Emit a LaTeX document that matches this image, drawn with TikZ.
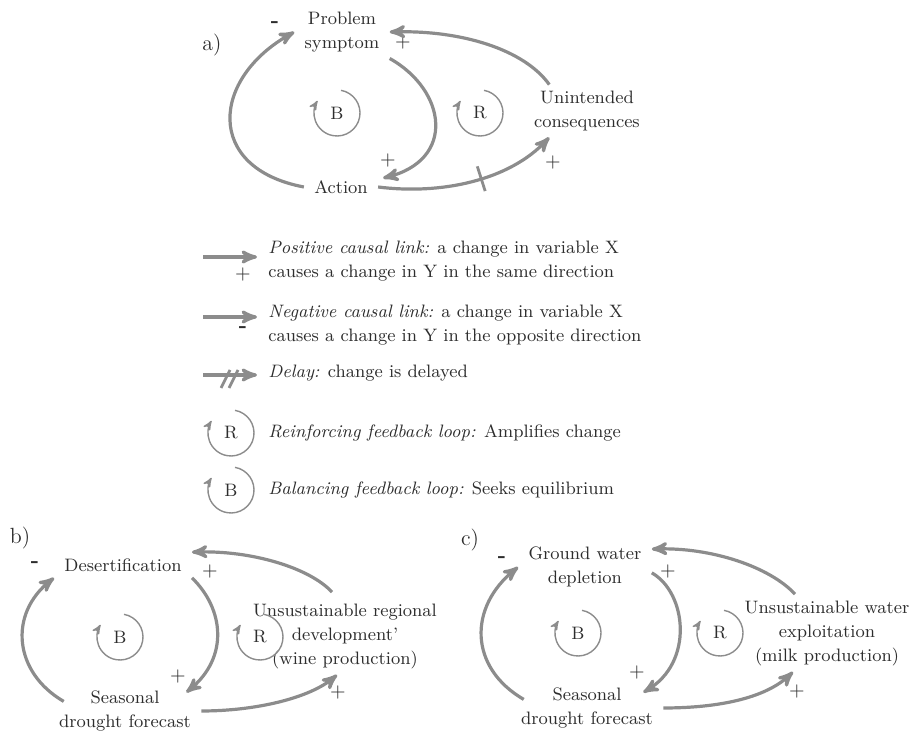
\documentclass[tikz,border=0pt]{standalone}
\usepackage{tikz}
\usetikzlibrary{arrows}

\definecolor{linkgray}{RGB}{140,140,140}
\definecolor{inkgray}{RGB}{45,45,45}

\begin{document}
\begin{tikzpicture}[x=0.5pt,y=0.5pt,>=stealth',text=inkgray,
  font=\fontsize{9}{12}\selectfont,
  concept/.style={align=center,inner xsep=5pt,inner ysep=3pt},
  link/.style={->,line width=1.6pt,draw=linkgray},
  loopsym/.style={circle,minimum size=23pt,inner sep=0pt,outer sep=0pt},
  looparrow/.style={->,line width=0.7pt,draw=linkgray},
  sign/.style={inner sep=0pt,font=\fontsize{10}{12}\selectfont},
  minus/.style={inner sep=0pt,font=\fontsize{11}{12}\selectfont\bfseries},
  panel/.style={font=\fontsize{11}{13}\selectfont},
  delaytick/.style={draw=linkgray,line width=1.4pt,minimum width=0pt,minimum height=13pt,inner sep=0pt}]

  \useasboundingbox (0,0) rectangle (910,733);

  % a) problem symptom
  \node[panel] (pa) at (212,688) {a)};
  \node[concept] (ps) at (342,701) {Problem\\symptom};
  \node[concept] (act) at (341,546) {Action};
  \node[concept] (uc) at (587,622) {Unintended\\consequences};
  \node[loopsym] (aB) at (337,620) {B};
  \node[loopsym] (aR) at (480,620) {R};

  \node[minus] (sa1) at (275,708) {-};
  \node[sign] (sa2) at (403,690) {+};
  \node[sign] (sa3) at (388,572) {+};
  \node[sign] (sa4) at (553,570) {+};

  \draw[link] (act.west) .. controls +(-100,19) and +(-83,-46) .. (ps.west);
  \draw[link] (ps.south east) .. controls +(57,-32) and +(73,18) .. ([shift={(5,-4)}]act.north east);
  \draw[link] (uc.145) .. controls +(-25,35) and +(72,2) .. (ps.east);
  \draw[link] (act.east) .. controls +(63,-8) and +(-40,-43) .. node[pos=.55,sloped,delaytick] {} (uc.-145);

  % legend
  \coordinate (pos1) at (203,476);
  \coordinate (pos2) at (257,476);
  \coordinate (neg1) at (203,416);
  \coordinate (neg2) at (257,416);
  \coordinate (del1) at (203,358);
  \coordinate (del2) at (257,358);
  \draw[link] (pos1) -- (pos2);
  \draw[link] (neg1) -- (neg2);
  \draw[link] (del1) -- (del2);
  \draw[linkgray,line width=1.4pt] (221,345) -- (230,363) (229,345) -- (238,363);
  \node[sign] (spos) at (243,458) {+};
  \node[minus] (sneg) at (243,403) {-};
  \node[loopsym] (gR) at (231,300) {R};
  \node[loopsym] (gB) at (231,243) {B};

  \node[align=left,anchor=west,inner sep=0pt] (tpos) at (268,472) {\textit{Positive causal link:} a change in variable X\\causes a change in Y in the same direction};
  \node[align=left,anchor=west,inner sep=0pt] (tneg) at (268,408) {\textit{Negative causal link:} a change in variable X\\causes a change in Y in the opposite direction};
  \node[anchor=west,inner sep=0pt] (tdel) at (268,360) {\textit{Delay:} change is delayed};
  \node[anchor=west,inner sep=0pt] (trei) at (268,300) {\textit{Reinforcing feedback loop:} Amplifies change};
  \node[anchor=west,inner sep=0pt] (tbal) at (268,243) {\textit{Balancing feedback loop:} Seeks equilibrium};

  % b) desertification
  \node[panel] (pb) at (20,195) {b)};
  \node[concept] (des) at (123,168) {Desertification};
  \node[concept] (sdf) at (125,22) {Seasonal\\drought forecast};
  \node[concept] (usr) at (345,97) {Unsustainable regional\\development'\\(wine production)};
  \node[loopsym] (bB) at (120,96) {B};
  \node[loopsym] (bR) at (260,96) {R};

  \node[minus] (sb1) at (35,168) {-};
  \node[sign] (sb2) at (210,161) {+};
  \node[sign] (sb3) at (178,56) {+};
  \node[sign] (sb4) at (338,40) {+};

  \draw[link] ([shift={(15,-17)}]sdf.north west) .. controls +(-50,29) and +(-46,-36) .. (des.south west);
  \draw[link] (des.south east) .. controls +(32,-31) and +(43,35) .. ([shift={(-15,-8)}]sdf.north east);
  \draw[link] ([shift={(-13,5)}]usr.north) .. controls +(-22,24) and +(60,2) .. (des.north east);
  \draw[link] (sdf.east) .. controls +(55,0) and +(-27,-23) .. ([xshift=-4pt]usr.south);

  % c) ground water
  \node[panel] (pc) at (470,193) {c)};
  \node[concept] (gwd) at (585,166) {Ground water\\depletion};
  \node[concept] (sdf2) at (587,25) {Seasonal\\drought forecast};
  \node[concept] (uwe) at (827,100) {Unsustainable water\\exploitation\\(milk production)};
  \node[loopsym] (cB) at (578,100) {B};
  \node[loopsym] (cR) at (720,100) {R};

  \node[minus] (sc1) at (502,173) {-};
  \node[sign] (sc2) at (668,161) {+};
  \node[sign] (sc3) at (637,60) {+};
  \node[sign] (sc4) at (797,41) {+};

  \draw[link] ([shift={(13,-18)}]sdf2.north west) .. controls +(-55,32) and +(-50,-40) .. (gwd.west);
  \draw[link] (gwd.-5) .. controls +(35,-20) and +(51,30) .. ([shift={(-20,-11)}]sdf2.north east);
  \draw[link] ([xshift=-16pt]uwe.north) .. controls +(-25,27) and +(60,2) .. (gwd.15);
  \draw[link] (sdf2.east) .. controls +(53,0) and +(-28,-27) .. ([xshift=-17pt]uwe.south);

  % loop arrows round the letters
  \foreach \l in {aB,aR,gR,gB,bB,bR,cB,cR}
    \draw[looparrow] (\l.80) arc[start angle=80,end angle=-212,radius=11.5pt];
\end{tikzpicture}
\end{document}
